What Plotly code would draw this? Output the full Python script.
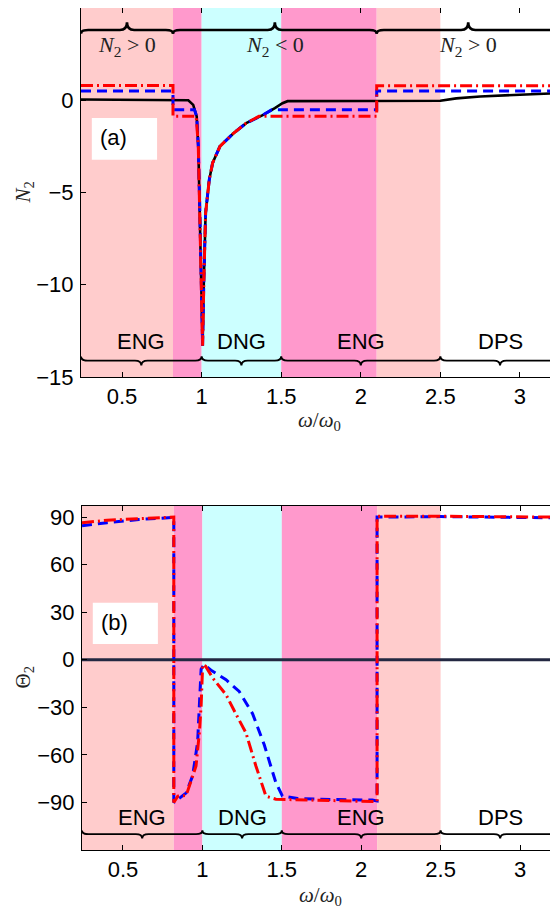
import plotly.graph_objects as go

# ---------------- data ----------------
# panel (a): N2 versus omega/omega0
n2_black_x = [0.242, 0.9, 0.916, 0.947, 0.969, 0.979, 0.989, 1.0, 1.006, 1.014, 1.025, 1.048,
              1.069, 1.115, 1.2, 1.28, 1.387, 1.46, 1.508, 1.54, 2.5, 2.6, 2.75, 3.0, 3.24]
n2_black_y = [0.04, 0.03, 0.0, -0.25, -0.88, -2.5, -6.1, -11.5, -13.3, -9.7, -6.1, -4.3,
              -3.4, -2.5, -1.79, -1.24, -0.79, -0.43, -0.16, -0.05, -0.03, 0.1, 0.2, 0.3, 0.38]

n2_blue_x = [0.242, 0.82, 0.82, 0.955, 0.969, 0.979, 0.989, 1.0, 1.006, 1.014, 1.025, 1.048,
             1.069, 1.115, 1.2, 1.28, 1.387, 1.44, 2.1, 2.1, 3.24]
n2_blue_y = [0.5, 0.5, -0.52, -0.52, -0.88, -2.5, -6.1, -11.5, -13.3, -9.7, -6.1, -4.3,
             -3.4, -2.5, -1.79, -1.24, -0.79, -0.52, -0.52, 0.5, 0.5]

n2_red_x = [0.242, 0.82, 0.82, 0.966, 0.979, 0.989, 1.0, 1.006, 1.014, 1.025, 1.048,
            1.069, 1.115, 1.2, 1.28, 1.36, 2.1, 2.1, 3.24]
n2_red_y = [0.8, 0.8, -0.87, -0.87, -2.5, -6.1, -11.5, -13.3, -9.7, -6.1, -4.3,
            -3.4, -2.5, -1.79, -1.24, -0.87, -0.87, 0.78, 0.78]

# panel (b): Theta2 versus omega/omega0
th_zero_x = [0.242, 3.24]
th_zero_y = [0.0, 0.0]

th_blue_x = [0.242, 0.4, 0.6, 0.82, 0.82, 0.835, 0.898, 0.939, 0.97, 0.981, 0.992, 1.01,
             1.06, 1.149, 1.232, 1.316, 1.389, 1.463, 1.504, 1.6, 1.734, 2.07, 2.1, 2.1,
             2.5, 3.24]
th_blue_y = [84.5, 86.5, 88.5, 89.8, -90, -89, -84, -73, -52, -29, -6, -3,
             -7, -12.6, -20, -34, -53.5, -77.6, -86, -87.5, -88, -88.5, -89, 90,
             90.3, 89.5]

th_red_x = [0.242, 0.4, 0.6, 0.82, 0.82, 0.845, 0.898, 0.96, 0.981, 0.992, 1.002, 1.02,
            1.065, 1.149, 1.21, 1.274, 1.337, 1.40, 1.463, 1.8, 2.08, 2.1, 2.1, 2.5, 3.24]
th_red_y = [86.5, 88, 89, 90, -90, -86, -85.6, -67, -46, -29, -3, -4,
            -11.5, -22, -34, -46, -67, -86, -88, -89, -89.5, -89.5, 90.5, 90.5, 90]

# shaded frequency bands
band_x0 = [0.242, 0.82, 1.0, 1.5, 2.1]
band_x1 = [0.82, 1.0, 1.5, 2.1, 2.5]
band_color = ["#FFCCCC", "#FF99CC", "#CCFFFF", "#FF99CC", "#FFCCCC"]

# braces: sign of N2 (top of panel a) and material class (bottom of both panels)
sign_x0 = [0.242, 0.82, 2.1]
sign_x1 = [0.82, 2.1, 3.25]
sign_label = ["<i>N</i><sub>2</sub> > 0", "<i>N</i><sub>2</sub> < 0", "<i>N</i><sub>2</sub> > 0"]

class_x0 = [0.242, 1.0, 1.5, 2.5]
class_x1 = [1.0, 1.5, 2.5, 3.25]
class_label = ["ENG", "DNG", "ENG", "DPS"]

x_ticks = [0.5, 1, 1.5, 2, 2.5, 3]
n2_ticks = [-15, -10, -5, 0, 5]
th_ticks = [-90, -60, -30, 0, 30, 60, 90]

# ---------------- figure ----------------
# the page body has an 8px margin, so the figure is 550x900 placed at (8, 8)
OFF = 8
W, H = 550, 900


def px(p):
    return (p - OFF) / W


def py(p):
    return 1 - (p - OFF) / H


XR = [0.242, 3.236]
SANS = "Liberation Sans, Arial, sans-serif"
SERIF = "Liberation Serif, Times New Roman, serif"

fig = go.Figure()


def add_line(x, y, color, width, dash, xa, ya):
    fig.add_trace(go.Scatter(x=x, y=y, mode="lines", xaxis=xa, yaxis=ya,
                             line=dict(color=color, width=width, dash=dash),
                             hoverinfo="skip", showlegend=False))


DASH = "10px,6px"
DASHDOT = "12px,4px,2px,4px"

add_line(n2_black_x, n2_black_y, "black", 2.6, "solid", "x", "y")
add_line(n2_blue_x, n2_blue_y, "#0000FF", 3, DASH, "x", "y")
add_line(n2_red_x, n2_red_y, "#FF0000", 3, DASHDOT, "x", "y")

add_line(th_zero_x, th_zero_y, "#232842", 3, "solid", "x2", "y2")
add_line(th_blue_x, th_blue_y, "#0000FF", 3, DASH, "x2", "y2")
add_line(th_red_x, th_red_y, "#FF0000", 3, DASHDOT, "x2", "y2")

shapes = []
annotations = []
for xa, ya in (("x", "y"), ("x2", "y2")):
    for x0, x1, c in zip(band_x0, band_x1, band_color):
        shapes.append(dict(type="rect", xref=xa, yref=ya + " domain", x0=x0, x1=x1, y0=0, y1=1,
                           fillcolor=c, line=dict(width=0), layer="below"))


def brace(x0, x1, y, h_end, h_tip, q, xa, ya, lw):
    xm = (x0 + x1) / 2
    p = (f"M{x0},{y + h_end} Q{x0},{y} {x0 + q},{y} L{xm - q},{y} "
         f"Q{xm},{y} {xm},{y + h_tip} Q{xm},{y} {xm + q},{y} "
         f"L{x1 - q},{y} Q{x1},{y} {x1},{y + h_end}")
    shapes.append(dict(type="path", path=p, xref=xa, yref=ya,
                       line=dict(color="black", width=lw), layer="above"))


def label(x, y, xa, ya, text, family, size, color="black"):
    annotations.append(dict(x=x, y=y, xref=xa, yref=ya, text=text, showarrow=False,
                            xanchor="center", yanchor="middle",
                            font=dict(family=family, size=size, color=color)))


# panel (a) top braces + labels
for x0, x1, t in zip(sign_x0, sign_x1, sign_label):
    brace(x0, x1, 3.81, -0.2, 0.42, 0.045, "x", "y", 2.6)
    label((x0 + x1) / 2, 2.95, "x", "y", t, SERIF, 22, "#222")
# bottom braces in both panels
for x0, x1, t in zip(class_x0, class_x1, class_label):
    brace(x0, x1, -14.11, 0.22, -0.26, 0.04, "x", "y", 1.9)
    label((x0 + x1) / 2, -13.07, "x", "y", t, SANS, 22)
    brace(x0, x1, -110, 2.3, -2.8, 0.04, "x2", "y2", 1.9)
    label((x0 + x1) / 2, -99.6, "x2", "y2", t, SANS, 22)

# panel tags in white boxes
shapes.append(dict(type="rect", xref="x", yref="y", x0=0.31, x1=0.72, y0=-3.23, y1=-0.96,
                   fillcolor="white", line=dict(width=0), layer="below"))
label(0.446, -2.04, "x", "y", "(a)", SANS, 22)
shapes.append(dict(type="rect", xref="x2", yref="y2", x0=0.31, x1=0.72, y0=10, y1=35.9,
                   fillcolor="white", line=dict(width=0), layer="below"))
label(0.445, 23.3, "x2", "y2", "(b)", SANS, 22)

# axis titles
xtitle = "<i>ω</i>/<i>ω</i><sub>0</sub>"
label(px(319.5), py(421), "paper", "paper", xtitle, SERIF, 21, "#222")
label(px(320), py(896), "paper", "paper", xtitle, SERIF, 21, "#222")
annotations.append(dict(x=px(23.5), y=py(193), xref="paper", yref="paper",
                        text="<i>N</i><sub>2</sub>", textangle=-90, showarrow=False,
                        xanchor="center", yanchor="middle",
                        font=dict(family=SERIF, size=21, color="#222")))
annotations.append(dict(x=px(23.5), y=py(677), xref="paper", yref="paper",
                        text="Θ<sub>2</sub>", textangle=-90, showarrow=False,
                        xanchor="center", yanchor="middle",
                        font=dict(family=SERIF, size=21, color="#222")))

axis_common = dict(showline=True, linecolor="black", linewidth=1, mirror="ticks", ticks="inside",
                   ticklen=5, tickwidth=1, tickcolor="black", showgrid=False, zeroline=False,
                   automargin=False, tickfont=dict(family=SANS, size=22, color="black"))

fig.update_layout(
    width=W, height=H, margin=dict(l=0, r=0, t=0, b=0),
    paper_bgcolor="white", plot_bgcolor="white", showlegend=False,
    shapes=shapes, annotations=annotations,
    xaxis=dict(domain=[px(81), px(557.5)], range=XR, anchor="y", tickvals=x_ticks,
               ticktext=[str(v) for v in x_ticks], **axis_common),
    yaxis=dict(domain=[py(377), py(8)], range=[-15, 5], anchor="x", tickvals=n2_ticks,
               ticklabelstandoff=2, **axis_common),
    xaxis2=dict(domain=[px(82), px(557.5)], range=XR, anchor="y2", tickvals=x_ticks,
                ticktext=[str(v) for v in x_ticks], **axis_common),
    yaxis2=dict(domain=[py(850), py(506)], range=[-120, 97], anchor="x2", tickvals=th_ticks,
                ticklabelstandoff=2, **axis_common),
)

fig.write_html("out.html")
